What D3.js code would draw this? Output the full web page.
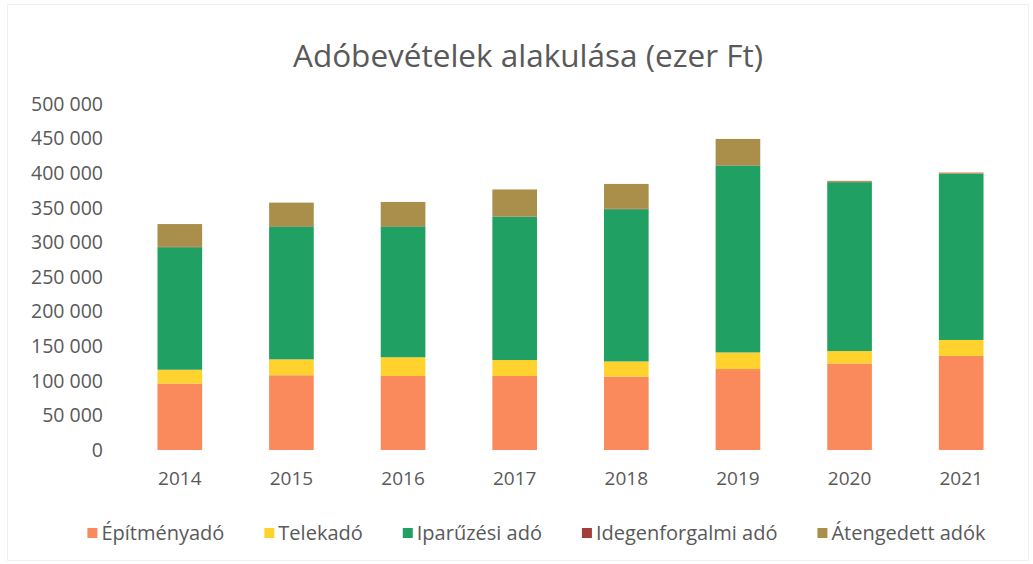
<!DOCTYPE html>
<html>
<head>
<meta charset="utf-8">
<script src="https://cdn.jsdelivr.net/npm/d3@7"></script>
<style>
  body { margin: 0; background: #fff; }
  svg { font-family: "Open Sans", "Noto Sans", sans-serif; }
</style>
</head>
<body>
<svg id="chart"></svg>
<script>
// Years and tax series (ezer Ft)
const years = ["2014", "2015", "2016", "2017", "2018", "2019", "2020", "2021"];
const epitmenyado = [96000, 108000, 107000, 107000, 106000, 117000, 125000, 136000];
const telekado = [20000, 23000, 27000, 23000, 22000, 24000, 18000, 23000];
const iparuzesi = [177000, 192000, 189000, 207000, 220000, 270000, 244000, 240000];
const idegenforgalmi = [500, 500, 500, 500, 500, 500, 500, 500];
const atengedett = [33000, 34000, 35000, 39000, 36000, 38000, 1500, 1500];
const seriesNames = ["Építményadó", "Telekadó", "Iparűzési adó", "Idegenforgalmi adó", "Átengedett adók"];
const seriesColors = ["#fa8a5c", "#ffd22e", "#21a063", "#a33d3a", "#a98f4a"];
const yTicks = [0, 50000, 100000, 150000, 200000, 250000, 300000, 350000, 400000, 450000, 500000];

var dims = {
  width: 1033,
  height: 564,
  margins: { top: 104, right: 16, bottom: 114, left: 124 }
};
var plotW = dims.width - dims.margins.left - dims.margins.right;
var plotH = dims.height - dims.margins.top - dims.margins.bottom;

const svg = d3.select("#chart")
  .attr("width", dims.width)
  .attr("height", dims.height);

// faint frame of the chart area
svg.append("rect")
  .attr("x", 7.5).attr("y", 4.5)
  .attr("width", dims.width - 12).attr("height", dims.height - 8)
  .attr("fill", "none")
  .attr("stroke", "#f0f0f0");

const g = svg.append("g")
  .attr("transform", `translate(${dims.margins.left},${dims.margins.top})`);

// build rows for the stack
const keys = ["epit", "telek", "ipar", "ideg", "aten"];
const rows = years.map((y, i) => ({
  year: y,
  epit: epitmenyado[i],
  telek: telekado[i],
  ipar: iparuzesi[i],
  ideg: idegenforgalmi[i],
  aten: atengedett[i]
}));
const stacked = d3.stack().keys(keys)(rows);

const x = d3.scaleBand()
  .domain(years)
  .range([0, plotW])
  .paddingInner(0.6)
  .paddingOuter(0.3);

const y = d3.scaleLinear()
  .domain([0, 500000])
  .range([plotH, 0]);

const huLocale = d3.formatLocale({ decimal: ",", thousands: "\u00a0", grouping: [3], currency: ["", " Ft"] });
const fmt = huLocale.format(",d");

// y axis (labels only)
const yAxis = g.append("g")
  .call(d3.axisLeft(y).tickValues(yTicks).tickFormat(fmt).tickSize(0).tickPadding(21));
yAxis.select(".domain").remove();
yAxis.selectAll("text")
  .attr("fill", "#595959")
  .style("font-size", "19.5px")
  .style("font-family", "Open Sans, sans-serif");

// x axis (labels only)
const xAxis = g.append("g")
  .attr("transform", `translate(0,${plotH})`)
  .call(d3.axisBottom(x).tickSize(0).tickPadding(22));
xAxis.select(".domain").remove();
xAxis.selectAll("text")
  .attr("fill", "#595959")
  .style("font-size", "19px")
  .style("font-family", "Open Sans, sans-serif");

// stacked bars
g.selectAll("g.layer")
  .data(stacked)
  .enter()
  .append("g")
  .attr("class", "layer")
  .attr("fill", (d, i) => seriesColors[i])
  .selectAll("rect")
  .data(d => d)
  .enter()
  .append("rect")
  .attr("x", d => x(d.data.year))
  .attr("y", d => y(d[1]))
  .attr("width", x.bandwidth())
  .attr("height", d => y(d[0]) - y(d[1]));

// title
svg.append("text")
  .attr("x", 528)
  .attr("y", 67)
  .attr("text-anchor", "middle")
  .attr("fill", "#595959")
  .style("font-size", "31.5px")
  .text("Adóbevételek alakulása (ezer Ft)");

// legend
const legend = svg.append("g").attr("transform", "translate(0,533)");
let lx = 0;
const gap = 40;
seriesNames.forEach((name, i) => {
  const item = legend.append("g").attr("transform", `translate(${lx},0)`);
  item.append("rect")
    .attr("x", 0).attr("y", -5)
    .attr("width", 10).attr("height", 10)
    .attr("fill", seriesColors[i]);
  const t = item.append("text")
    .attr("x", 14)
    .attr("y", 0)
    .attr("dy", "0.35em")
    .attr("fill", "#595959")
    .style("font-size", "20px")
    .text(name);
  const w = t.node().getComputedTextLength();
  lx += 14 + w + gap;
});
const legendW = lx - gap;
legend.attr("transform", `translate(${(dims.width - legendW) / 2 + 20},533)`);
</script>
</body>
</html>
